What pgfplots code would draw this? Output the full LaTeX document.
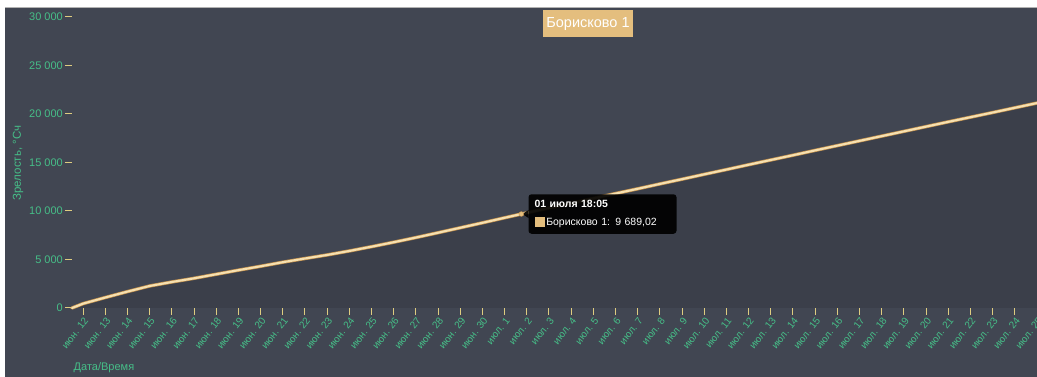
\documentclass[border=0pt]{standalone}
\usepackage{pgfplots}
\pgfplotsset{compat=1.18}
\usepackage{pgfplotstable}
\usepackage{fontspec}
\setmainfont{Liberation Sans}
\definecolor{bgtop}{RGB}{65,70,82}
\definecolor{bgbot}{RGB}{59,63,74}
\definecolor{lbl}{RGB}{70,190,136}
\definecolor{tck}{RGB}{222,204,128}
\definecolor{lncore}{RGB}{246,224,176}
\definecolor{lnedge}{RGB}{196,146,78}
\definecolor{titlebox}{RGB}{228,190,126}
\pgfplotstableread{
d v
-0.5 0
0 450
1 1080
2 1690
3 2270
4 2680
5 3060
6 3480
7 3900
8 4300
9 4720
10 5100
11 5470
12 5880
13 6320
14 6780
15 7260
16 7760
17 8270
18 8780
19 9300
19.754 9689.02
20 9810
21 10310
22 10800
23 11300
24 11800
25 12290
26 12790
27 13280
28 13780
29 14270
30 14770
31 15260
32 15750
33 16250
34 16740
35 17230
36 17720
37 18210
38 18700
39 19190
40 19670
41 20150
42 20640
43 21130
}\datatable
\begin{document}
\begin{tikzpicture}[x=1pt,y=1pt]
\fill[white] (0,0) rectangle (1037,377);
\fill[bgtop] (5,0) rectangle (1037,370);
\draw[gray!60,line width=0.6pt] (5,370) -- (1037,370);
\begin{axis}[
  at={(72pt,69pt)}, anchor=south west,
  scale only axis, width=965pt, height=291pt,
  xmin=-0.5, xmax=43, ymin=0, ymax=30000,
  scaled y ticks=false,
  axis x line*=bottom, axis y line*=left,
  axis line style={draw=none},
  tick align=outside,
  major tick length=7pt,
  tick style={tck, line width=1pt},
  xtick={0,...,43},
  xticklabels={июн. 12,июн. 13,июн. 14,июн. 15,июн. 16,июн. 17,июн. 18,июн. 19,июн. 20,июн. 21,июн. 22,июн. 23,июн. 24,июн. 25,июн. 26,июн. 27,июн. 28,июн. 29,июн. 30,июл. 1,июл. 2,июл. 3,июл. 4,июл. 5,июл. 6,июл. 7,июл. 8,июл. 9,июл. 10,июл. 11,июл. 12,июл. 13,июл. 14,июл. 15,июл. 16,июл. 17,июл. 18,июл. 19,июл. 20,июл. 21,июл. 22,июл. 23,июл. 24,июл. 25},
  xticklabel style={rotate=52, anchor=north east, text=lbl, font=\fontsize{10}{10}\selectfont, inner sep=1pt},
  ytick={0,5000,10000,15000,20000,25000,30000},
  yticklabels={0,5 000,10 000,15 000,20 000,25 000,30 000},
  yticklabel style={text=lbl, font=\fontsize{11}{12}\selectfont, inner sep=2pt},
  clip=false,
]
\addplot[draw=none, fill=bgbot] table[x=d,y=v] {\datatable} \closedcycle;
\addplot[lnedge, line width=3.4pt, line join=round, line cap=round] table[x=d,y=v] {\datatable};
\addplot[lncore, line width=2.1pt, line join=round, line cap=round] table[x=d,y=v] {\datatable};
\addplot[only marks, mark=*, mark size=2.4pt, lnedge, mark options={fill=titlebox}] coordinates {(19.754,9689.02)};
\node[fill=black, fill opacity=0.92, text opacity=1, text=white, rounded corners=3pt,
      anchor=west, xshift=7pt, inner xsep=6pt, inner ysep=6pt, align=left, text width=136pt,
      font=\fontsize{10.5}{18}\selectfont] (tt) at (axis cs:19.754,9689.02)
  {\textbf{01 июля 18:05}\\\textcolor{titlebox}{\rule[-1pt]{10pt}{10pt}}\,Борисково 1: 9 689,02};
\fill[black, opacity=0.92] ([xshift=0.2pt,yshift=4pt]tt.west) -- ([xshift=-6pt]tt.west) -- ([xshift=0.2pt,yshift=-4pt]tt.west) -- cycle;
\end{axis}
\node[fill=titlebox, text=white, inner xsep=3pt, inner ysep=3pt, minimum height=27pt,
      font=\fontsize{14.5}{16}\selectfont] at (588,353) {Борисково 1};
\node[rotate=90, text=lbl, font=\fontsize{11.5}{12}\selectfont] at (18,214) {Зрелость, °Сч};
\node[text=lbl, font=\fontsize{11}{12}\selectfont] at (104,9) {Дата/Время};
\pgfresetboundingbox
\useasboundingbox (0,0) rectangle (1037,377);
\end{tikzpicture}
\end{document}
